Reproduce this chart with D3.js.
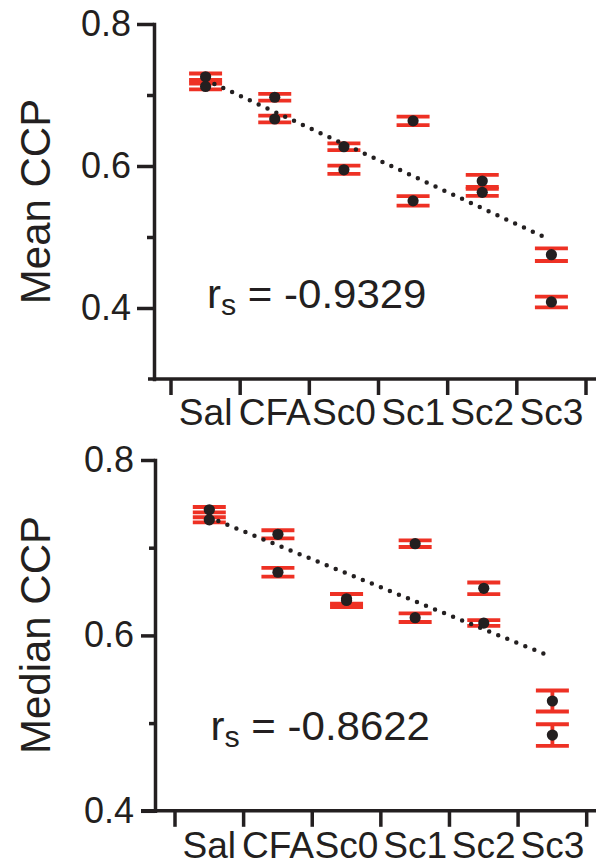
<!DOCTYPE html>
<html>
<head>
<meta charset="utf-8">
<script src="https://cdn.jsdelivr.net/npm/d3@7"></script>
<style>
  html, body { margin: 0; padding: 0; background: #fff; }
  svg { display: block; }
  text { font-family: "Liberation Sans", Arial, Helvetica, sans-serif; fill: #231f20; }
</style>
</head>
<body>
<svg id="chart" width="596" height="867"></svg>
<script>
// ---------------- data ----------------
const categories = ["Sal", "CFA", "Sc0", "Sc1", "Sc2", "Sc3"];

// Mean CCP (two points per group, each with an error bar)
const meanCCP_a     = [0.7257, 0.6968, 0.6272, 0.6636, 0.5789, 0.4751];
const meanCCP_a_err = [0.0046, 0.0047, 0.0047, 0.0059, 0.0085, 0.0089];
const meanCCP_b     = [0.7120, 0.6662, 0.5946, 0.5509, 0.5629, 0.4085];
const meanCCP_b_err = [0.0042, 0.0047, 0.0058, 0.0068, 0.0049, 0.0075];
const meanTrend     = [[0, 0.7214], [4.918, 0.499]];   // [group index, value]
const meanRs        = "-0.9329";

// Median CCP
const medianCCP_a     = [0.7433, 0.7153, 0.6417, 0.7046, 0.6537, 0.5252];
const medianCCP_a_err = [0.0031, 0.0046, 0.0055, 0.0038, 0.0066, 0.0120];
const medianCCP_b     = [0.7318, 0.6720, 0.6398, 0.6202, 0.6141, 0.4864];
const medianCCP_b_err = [0.0029, 0.0049, 0.0074, 0.0049, 0.0033, 0.0123];
const medianTrend     = [[0, 0.7346], [4.884, 0.5788]];
const medianRs        = "-0.8622";

const yMajorTicks = [0.4, 0.6, 0.8];
const yMinorTicks = [0.5, 0.7];

// ---------------- drawing ----------------
const INK = "#231f20";
const RED = "#ee3124";
const svg = d3.select("#chart");

function panel(cfg) {
  const g = svg.append("g");
  const y = d3.scaleLinear().domain(cfg.yDomain).range(cfg.yRange);
  const x = d3.scaleBand().domain(categories).range(cfg.xRange).padding(0);
  const xi = d3.scaleLinear().domain([0, 1]).range([x(categories[0]) + x.bandwidth() / 2, x(categories[1]) + x.bandwidth() / 2]);

  // y axis (major ticks with labels)
  const yAx = g.append("g").attr("transform", `translate(${cfg.axisX},0)`)
    .call(d3.axisLeft(y).tickValues(yMajorTicks).tickSize(cfg.majorTick).tickSizeOuter(0)
      .tickPadding(cfg.tickPad).tickFormat(d3.format(".1f")));
  yAx.selectAll("path, line").attr("stroke", INK).attr("stroke-width", 3.5);
  yAx.select(".domain").attr("stroke-linecap", "square");
  yAx.selectAll("text").style("font-size", "36px").attr("fill", INK)
    .style("font-family", '"Liberation Sans", Arial, sans-serif');
  // minor ticks
  const yMin = g.append("g").attr("transform", `translate(${cfg.axisX},0)`)
    .call(d3.axisLeft(y).tickValues(yMinorTicks).tickSize(cfg.minorTick).tickFormat(""));
  yMin.select(".domain").remove();
  yMin.selectAll("line").attr("stroke", INK).attr("stroke-width", 3.5);

  // x axis line
  const baseY = y(cfg.yDomain[0]);
  g.append("line").attr("x1", cfg.axisX - cfg.xLineExt).attr("x2", 600)
    .attr("y1", baseY).attr("y2", baseY).attr("stroke", INK).attr("stroke-width", 3.5);
  // x ticks at band boundaries
  const bounds = categories.map(c => x(c)).concat([x(categories[categories.length - 1]) + x.bandwidth()]);
  g.selectAll(".xt").data(bounds).join("line")
    .attr("x1", d => d).attr("x2", d => d)
    .attr("y1", baseY).attr("y2", baseY + 16)
    .attr("stroke", INK).attr("stroke-width", 3.5);
  // x labels
  g.selectAll(".xl").data(categories).join("text")
    .attr("transform", d => `translate(${x(d) + x.bandwidth() / 2},${cfg.labelBaseline}) scale(1.03,1)`)
    .attr("text-anchor", "middle")
    .style("font-size", "36px")
    .text(d => d);

  // y title
  g.append("text")
    .attr("transform", `translate(${cfg.titleX},${cfg.titleY}) rotate(-90)`)
    .attr("text-anchor", "middle")
    .style("font-size", "42px")
    .text(cfg.title);

  // error bars
  const pts = [];
  categories.forEach((c, i) => {
    pts.push({ c, v: cfg.a[i], e: cfg.aErr[i] });
    pts.push({ c, v: cfg.b[i], e: cfg.bErr[i] });
  });
  const cx = d => x(d.c) + x.bandwidth() / 2;
  const capW = 16.5;
  const eb = g.append("g");
  eb.selectAll(".v").data(pts).join("line")
    .attr("x1", cx).attr("x2", cx)
    .attr("y1", d => y(d.v + d.e)).attr("y2", d => y(d.v - d.e))
    .attr("stroke", RED).attr("stroke-width", 3.8);
  eb.selectAll(".ct").data(pts).join("line")
    .attr("x1", d => cx(d) - capW).attr("x2", d => cx(d) + capW)
    .attr("y1", d => y(d.v + d.e)).attr("y2", d => y(d.v + d.e))
    .attr("stroke", RED).attr("stroke-width", 3.8);
  eb.selectAll(".cb").data(pts).join("line")
    .attr("x1", d => cx(d) - capW).attr("x2", d => cx(d) + capW)
    .attr("y1", d => y(d.v - d.e)).attr("y2", d => y(d.v - d.e))
    .attr("stroke", RED).attr("stroke-width", 3.8);

  // trend line (dotted)
  g.append("path")
    .datum(cfg.trend)
    .attr("d", d3.line().x(d => xi(d[0])).y(d => y(d[1])))
    .attr("fill", "none").attr("stroke", INK).attr("stroke-width", 4.5)
    .attr("stroke-linecap", "round").attr("stroke-dasharray", "0 9.75");

  // points
  g.selectAll(".pt").data(pts).join("circle")
    .attr("cx", cx).attr("cy", d => y(d.v)).attr("r", 5.6).attr("fill", INK);

  // r_s annotation
  const t = g.append("text")
    .attr("transform", `translate(${cfg.rsX},${cfg.rsY}) scale(1.05,1)`)
    .style("font-size", "40px");
  t.append("tspan").text("r");
  t.append("tspan").attr("dy", 7).style("font-size", "29px").text("s");
  t.append("tspan").attr("dy", -7).text(" = " + cfg.rs);
}

panel({
  title: "Mean CCP", titleX: 49.5, titleY: 201.5,
  yDomain: [0.3, 0.8], yRange: [379, 24],
  xRange: [171, 586], axisX: 154, majorTick: 17, minorTick: 7, tickPad: 6, xLineExt: 6,
  labelBaseline: 425,
  a: meanCCP_a, aErr: meanCCP_a_err, b: meanCCP_b, bErr: meanCCP_b_err,
  trend: meanTrend, rs: meanRs, rsX: 207, rsY: 308
});

panel({
  title: "Median CCP", titleX: 50, titleY: 635,
  yDomain: [0.4, 0.8], yRange: [810.8, 460],
  xRange: [175, 586.7], axisX: 155, majorTick: 14, minorTick: 6, tickPad: 7, xLineExt: 14,
  labelBaseline: 858,
  a: medianCCP_a, aErr: medianCCP_a_err, b: medianCCP_b, bErr: medianCCP_b_err,
  trend: medianTrend, rs: medianRs, rsX: 210.5, rsY: 740
});
</script>
</body>
</html>
